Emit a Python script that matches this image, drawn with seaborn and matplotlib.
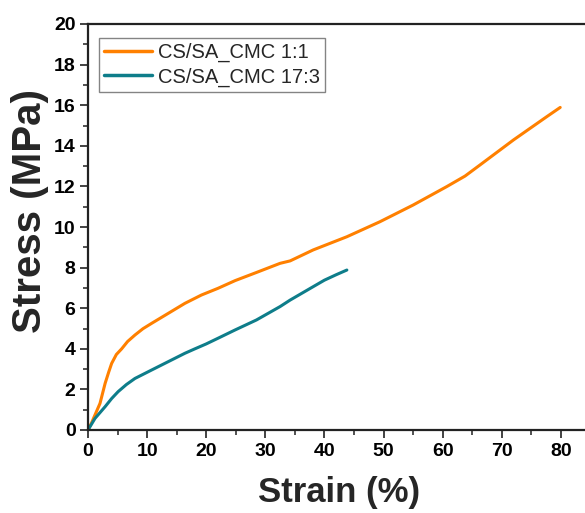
import matplotlib
matplotlib.use("Agg")
import matplotlib.pyplot as plt
import seaborn as sns
import pandas as pd
from matplotlib.ticker import MultipleLocator

# Data
strain_11 = [0, 0.6, 1.18, 2.03, 2.9, 3.5, 4.0, 4.8, 5.7, 6.7, 7.95, 9.3, 10.8, 13.6, 16.4, 19.2, 22.0, 24.9, 28.5, 32.5, 34.2, 38.1, 43.8, 49.4, 55.0, 60.7, 63.8, 66.3, 72.0, 77.6, 79.9]
stress_11 = [0, 0.35, 0.74, 1.31, 2.3, 2.85, 3.28, 3.72, 4.0, 4.36, 4.68, 4.99, 5.26, 5.75, 6.24, 6.65, 6.98, 7.36, 7.76, 8.21, 8.33, 8.87, 9.52, 10.26, 11.08, 11.99, 12.51, 13.05, 14.29, 15.43, 15.89]
strain_173 = [0, 1.18, 2.9, 4.0, 5.1, 6.5, 7.95, 10.8, 13.6, 16.4, 18.1, 20.0, 22.0, 24.9, 28.5, 32.5, 34.2, 38.1, 40.0, 42.0, 43.8]
stress_173 = [0, 0.57, 1.15, 1.55, 1.89, 2.24, 2.54, 2.96, 3.37, 3.78, 4.0, 4.24, 4.52, 4.93, 5.42, 6.08, 6.4, 7.06, 7.38, 7.65, 7.88]
series_names = ["CS/SA_CMC 1:1", "CS/SA_CMC 17:3"]
colors = ["#FF8000", "#0E7D8A"]
x_ticks = [0, 10, 20, 30, 40, 50, 60, 70, 80]
y_ticks = [0, 2, 4, 6, 8, 10, 12, 14, 16, 18, 20]

df = pd.concat([
    pd.DataFrame({"Strain": strain_11, "Stress": stress_11, "Sample": series_names[0]}),
    pd.DataFrame({"Strain": strain_173, "Stress": stress_173, "Sample": series_names[1]}),
], ignore_index=True)

sns.set_theme(style="ticks")
plt.rcParams['font.family'] = ['Liberation Sans', 'DejaVu Sans']

fig = plt.figure(figsize=(5.85, 5.13), dpi=100)
fig.patch.set_facecolor("white")
ax = fig.add_axes([88/585, 83/513, 85*5.91/585, 406/513])

sns.lineplot(data=df, x="Strain", y="Stress", hue="Sample", palette=colors,
             sort=False, estimator=None, linewidth=2.2, ax=ax)

ax.set_xlim(0, 85)
ax.set_ylim(0, 20)
ax.set_xticks(x_ticks)
ax.set_yticks(y_ticks)
ax.xaxis.set_minor_locator(MultipleLocator(5))
ax.yaxis.set_minor_locator(MultipleLocator(1))
ax.tick_params(axis="both", which="major", direction="out", length=6, width=1.2,
               colors="#222222", labelsize=14, pad=3)
ax.tick_params(axis="both", which="minor", direction="out", length=3.5, width=1.1,
               colors="#222222")
for lab in ax.get_xticklabels() + ax.get_yticklabels():
    lab.set_fontweight("bold")
    lab.set_color("black")
for s in ax.spines.values():
    s.set_visible(True)
    s.set_linewidth(1.6)
    s.set_color("#222222")

ax.set_xlabel("Strain (%)", fontsize=25, fontweight="bold")
ax.set_ylabel("Stress (MPa)", fontsize=29, fontweight="bold")
ax.yaxis.set_label_coords(-0.078, 0.54)
ax.xaxis.set_label_coords(0.5, -0.113)

leg = ax.legend(loc="upper left", bbox_to_anchor=(0.021, 0.965), fontsize=14.5,
                frameon=True, fancybox=False, handlelength=2.4, handletextpad=0.3,
                borderpad=0.25, labelspacing=0.25, borderaxespad=0)
leg.get_frame().set_edgecolor("#666666")
leg.get_frame().set_linewidth(1.0)
for l in leg.get_lines():
    l.set_linewidth(2.5)

fig.savefig("out.png", dpi=100, facecolor="white")
